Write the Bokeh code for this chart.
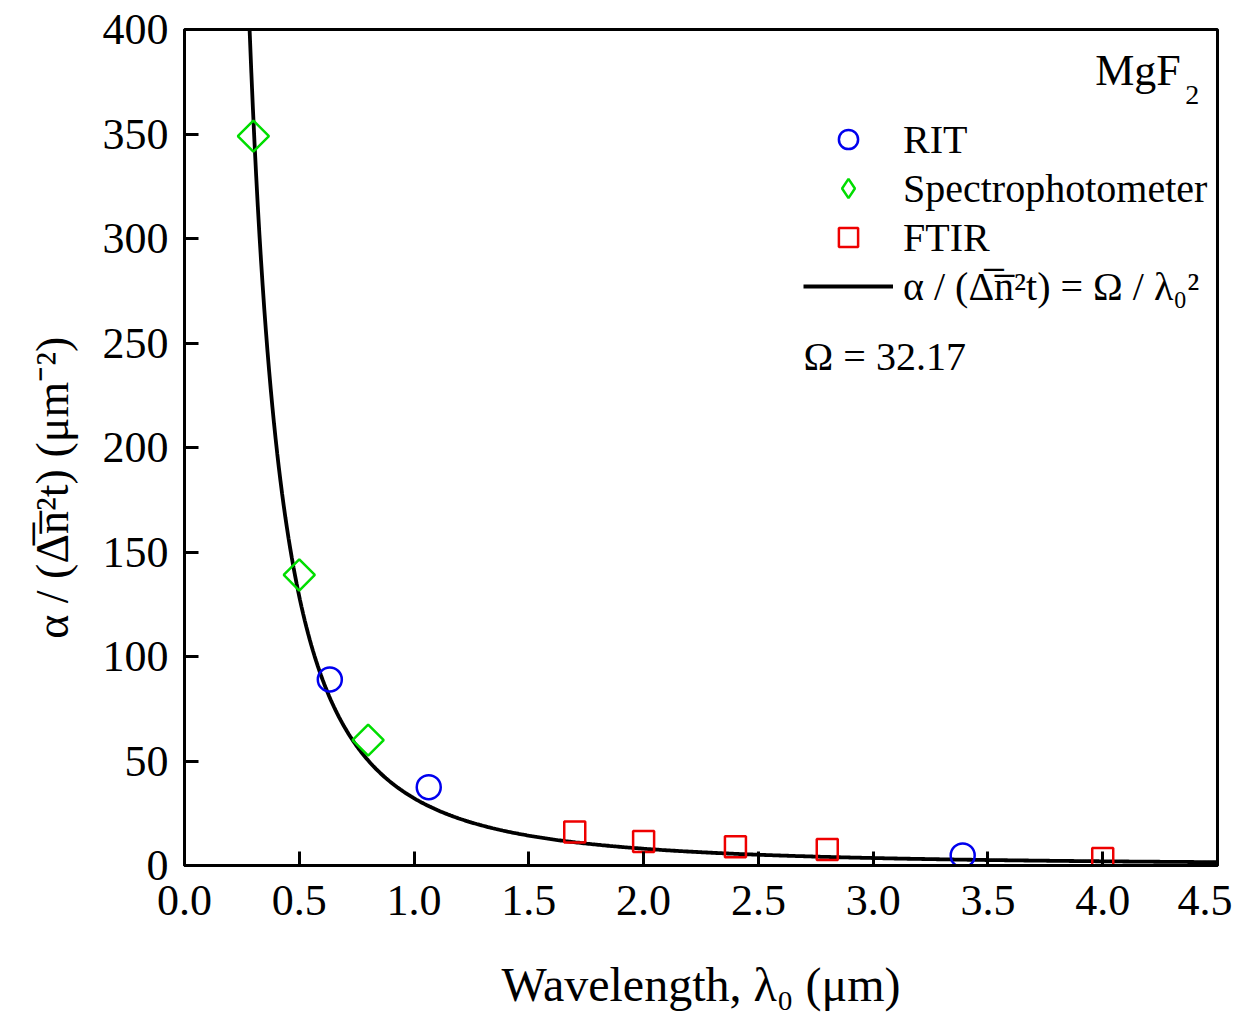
import numpy as np
from bokeh.plotting import figure
from bokeh.models import Range1d, Legend, LegendItem, Label
from bokeh.embed import file_html
from bokeh.resources import INLINE

# ---- data ----
rit_x = [0.633, 1.064, 3.39]
rit_y = [89.0, 37.5, 4.8]
spec_x = [0.30, 0.50, 0.80]
spec_y = [349.0, 139.0, 60.0]
ftir_x = [1.70, 2.00, 2.40, 2.80, 4.00]
ftir_y = [16.0, 11.5, 9.0, 7.7, 3.3]
OMEGA = 32.17  # fitted constant shown in the chart: y = OMEGA / lambda^2
x_ticks = [0.0, 0.5, 1.0, 1.5, 2.0, 2.5, 3.0, 3.5, 4.0, 4.5]
y_ticks = [0, 50, 100, 150, 200, 250, 300, 350, 400]

lam = np.linspace(0.27, 4.5, 600)
fit = OMEGA / lam**2

FONT = "Liberation Serif"
NB = "\u00a0"

p = figure(width=1232, height=1013, output_backend="svg", toolbar_location=None,
           x_range=Range1d(0, 4.5), y_range=Range1d(0, 400),
           min_border_left=184, min_border_right=15, min_border_top=29, min_border_bottom=147)
p.background_fill_color = "white"
p.border_fill_color = "white"
p.grid.visible = False
p.outline_line_color = "black"
p.outline_line_width = 3

line_r = p.line(lam, fit, line_color="black", line_width=3.8)
rit_r = p.scatter(rit_x, rit_y, marker="circle", size=24, fill_color=None,
                  line_color="#0000ee", line_width=2.5)
spec_r = p.scatter(spec_x, spec_y, marker="square", angle=np.pi / 4, size=22, fill_color=None,
                   line_color="#00dd00", line_width=2.5)
ftir_r = p.scatter(ftir_x, ftir_y, marker="square", size=21, fill_color=None,
                   line_color="#ee0000", line_width=2.5)
# legend-only stand-in (one NaN point, never drawn in the plot) so the legend shows a diamond
spec_leg = p.scatter([float("nan")], [float("nan")], marker="diamond", size=30, fill_color=None,
                     line_color="#00dd00", line_width=2.5)

for ax in (p.xaxis[0], p.yaxis[0]):
    ax.axis_line_width = 3
    ax.major_tick_line_width = 3
    ax.minor_tick_line_width = 3
    ax.major_tick_in = 14
    ax.major_tick_out = 0
    ax.minor_tick_in = 7
    ax.minor_tick_out = 0
    ax.major_label_text_font = FONT
    ax.major_label_text_font_size = "44px"
    ax.major_label_text_color = "black"
    ax.axis_label_text_font = FONT
    ax.axis_label_text_font_size = "48px"
    ax.axis_label_text_font_style = "normal"
    ax.axis_label_text_color = "black"

p.xaxis.major_label_standoff = 20
p.yaxis.major_label_standoff = 16
p.xaxis.ticker = x_ticks
p.xaxis[0].ticker.num_minor_ticks = 2
p.yaxis.ticker = y_ticks
p.yaxis[0].ticker.num_minor_ticks = 2
p.xaxis.major_label_overrides = {v: f"{v:.1f}" for v in x_ticks}
p.xaxis.axis_label = "Wavelength, λ\u2080 (μm)"
p.xaxis.axis_label_standoff = 40
p.yaxis.axis_label = "α / (Δ\u0305n\u0305²t) (μm⁻²)" + NB * 7
p.yaxis.axis_label_text_font_size = "46px"
p.yaxis.axis_label_standoff = 22

legend = Legend(items=[
    LegendItem(label="RIT", renderers=[rit_r]),
    LegendItem(label="Spectrophotometer", renderers=[spec_leg]),
    LegendItem(label="FTIR", renderers=[ftir_r]),
    LegendItem(label="α / (Δ\u0305n\u0305²t) = Ω / λ\u2080²", renderers=[line_r]),
], location=(619, 555))
legend.label_text_font = FONT
legend.label_text_font_size = "40px"
legend.label_text_color = "black"
legend.glyph_width = 90
legend.glyph_height = 48
legend.label_height = 48
legend.label_standoff = 10
legend.spacing = 1
legend.padding = 0
legend.margin = 0
legend.border_line_color = None
legend.background_fill_alpha = 0
p.add_layout(legend)

p.add_layout(Label(x=4.34, y=368.5, text="MgF", text_align="right",
                   text_font=FONT, text_font_size="44px", text_color="black"))
p.add_layout(Label(x=4.42, y=364.5, text="2", text_align="right",
                   text_font=FONT, text_font_size="28px", text_color="black"))
p.add_layout(Label(x=2.697, y=233, text="Ω = 32.17", text_align="left",
                   text_font=FONT, text_font_size="40px", text_color="black"))

open("out.html", "w").write(file_html(p, INLINE))
